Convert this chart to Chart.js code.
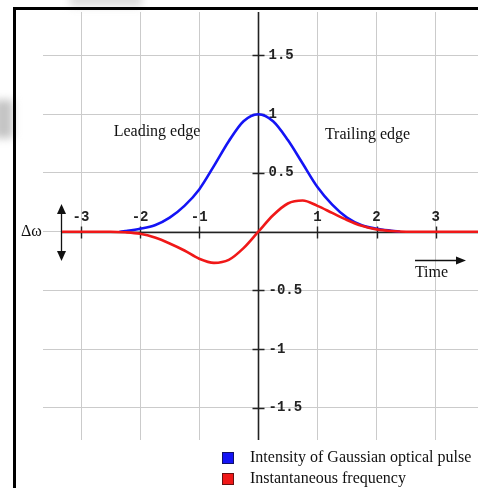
<!DOCTYPE html>
<html>
<head>
<meta charset="utf-8">
<script src="https://cdn.jsdelivr.net/npm/chart.js@4/dist/chart.umd.min.js"></script>
<style>
  html, body { margin: 0; padding: 0; background: #fff; overflow: hidden; }
  #wrap { position: relative; width: 478px; height: 488px; }
</style>
</head>
<body>
<div id="wrap"><canvas id="c" width="478" height="488"></canvas></div>
<script>
// Gaussian pulse intensity versus time
const pulseTime = [-2.35, -2.25, -2, -1.75, -1.5, -1.25, -1, -0.75, -0.5, -0.25, 0,
                   0.25, 0.5, 0.75, 1, 1.25, 1.5, 1.75, 2, 2.25, 2.4];
const pulseIntensity = [0, 0.006, 0.025, 0.055, 0.12, 0.22, 0.36, 0.56, 0.77, 0.94, 1,
                        0.94, 0.78, 0.58, 0.38, 0.23, 0.12, 0.055, 0.025, 0.008, 0];

// Instantaneous frequency shift (chirp) versus time
const chirpTime = [-3.32, -2.5, -2.25, -2, -1.75, -1.5, -1.25, -1, -0.75, -0.5, -0.25, 0,
                   0.25, 0.5, 0.75, 1, 1.25, 1.5, 1.75, 2, 2.25, 2.5, 3.72];
const chirpFrequency = [0, 0, -0.005, -0.018, -0.05, -0.1, -0.16, -0.23, -0.265, -0.24, -0.14, 0,
                        0.14, 0.24, 0.265, 0.22, 0.16, 0.1, 0.05, 0.02, 0.006, 0, 0];

// Axis tick labels
const xTickValues = [-3, -2, -1, 1, 2, 3];
const xTickLabels = ['-3', '-2', '-1', '1', '2', '3'];
const yTickValues = [1.5, 1, 0.5, -0.5, -1, -1.5];
const yTickLabels = ['1.5', '1', '0.5', '-0.5', '-1', '-1.5'];

const seriesNames = ['Intensity of Gaussian optical pulse', 'Instantaneous frequency'];
const seriesColors = ['#1414f5', '#f01818'];
const seriesBorders = ['#10106a', '#6a1010'];

const toPoints = (xs, ys) => xs.map((x, i) => ({ x: x, y: ys[i] }));

const SERIF = '"Liberation Serif", "DejaVu Serif", serif';
const MONO = '"Liberation Mono", "DejaVu Sans Mono", monospace';

function arrowHead(ctx, x, y, dir, len, half) {
  // dir: 'up' | 'down' | 'right'
  ctx.beginPath();
  if (dir === 'up') { ctx.moveTo(x, y); ctx.lineTo(x - half, y + len); ctx.lineTo(x + half, y + len); }
  else if (dir === 'down') { ctx.moveTo(x, y); ctx.lineTo(x - half, y - len); ctx.lineTo(x + half, y - len); }
  else { ctx.moveTo(x, y); ctx.lineTo(x - len, y - half); ctx.lineTo(x - len, y + half); }
  ctx.closePath();
  ctx.fill();
}

const decorPlugin = {
  id: 'decor',
  beforeDraw(chart) {
    const ctx = chart.ctx;
    ctx.save();
    // faint grey smudges near the top-left corner
    ctx.filter = 'blur(4px)';
    ctx.fillStyle = '#c4c4c4';
    ctx.fillRect(-6, 100, 19, 38);
    ctx.fillStyle = '#d8d8d8';
    ctx.fillRect(70, -6, 72, 12);
    ctx.filter = 'none';
    ctx.restore();
  },
  beforeDatasetsDraw(chart) {
    const ctx = chart.ctx;
    const xs = chart.scales.x, ys = chart.scales.y;
    const x0 = Math.round(xs.getPixelForValue(0)) + 0.5;
    const y0 = Math.round(ys.getPixelForValue(0)) + 0.5;
    const area = chart.chartArea;
    ctx.save();

    // outer frame (left and top edges)
    ctx.strokeStyle = '#000';
    ctx.lineWidth = 3;
    ctx.beginPath();
    ctx.moveTo(14.5, 490);
    ctx.lineTo(14.5, 8.5);
    ctx.lineTo(480, 8.5);
    ctx.stroke();

    // axes through the origin
    ctx.strokeStyle = '#222';
    ctx.lineWidth = 1.6;
    ctx.beginPath();
    ctx.moveTo(62, y0); ctx.lineTo(area.right, y0);
    ctx.moveTo(x0, area.top); ctx.lineTo(x0, area.bottom);
    ctx.stroke();

    // tick marks
    ctx.lineWidth = 1.4;
    ctx.beginPath();
    xTickValues.forEach(v => {
      const px = Math.round(xs.getPixelForValue(v)) + 0.5;
      ctx.moveTo(px, y0 - 6); ctx.lineTo(px, y0 + 6);
    });
    yTickValues.forEach(v => {
      const py = Math.round(ys.getPixelForValue(v)) + 0.5;
      ctx.moveTo(x0 - 6, py); ctx.lineTo(x0 + 6, py);
    });
    ctx.stroke();

    // tick labels
    ctx.fillStyle = '#222';
    ctx.font = 'bold 14px ' + MONO;
    ctx.textBaseline = 'middle';
    ctx.textAlign = 'center';
    xTickValues.forEach((v, i) => {
      ctx.fillText(xTickLabels[i], xs.getPixelForValue(v), y0 - 15);
    });
    ctx.textAlign = 'left';
    yTickValues.forEach((v, i) => {
      ctx.fillText(yTickLabels[i], x0 + 10, ys.getPixelForValue(v));
    });

    // frequency-shift marker with double arrow
    ctx.fillStyle = '#111';
    ctx.strokeStyle = '#111';
    ctx.lineWidth = 1.3;
    ctx.beginPath();
    ctx.moveTo(61.5, 210); ctx.lineTo(61.5, 255);
    ctx.stroke();
    arrowHead(ctx, 61.5, 204, 'up', 10, 4.5);
    arrowHead(ctx, 61.5, 261, 'down', 10, 4.5);
    ctx.font = '16px ' + SERIF;
    ctx.textAlign = 'left';
    ctx.fillText('\u0394\u03c9', 21, 232);

    // time direction arrow
    ctx.beginPath();
    ctx.moveTo(415, 260.5); ctx.lineTo(458, 260.5);
    ctx.stroke();
    arrowHead(ctx, 466, 260.5, 'right', 10, 4);
    ctx.font = '16px ' + SERIF;
    ctx.textAlign = 'center';
    ctx.fillText('Time', 431.5, 273);

    // pulse edge annotations
    ctx.fillText('Leading edge', 157, 132);
    ctx.fillText('Trailing edge', 367.5, 135);
    ctx.restore();
  },
  afterDraw(chart) {
    const ctx = chart.ctx;
    ctx.save();
    const rows = [458, 479];
    ctx.font = '16px ' + SERIF;
    ctx.textBaseline = 'middle';
    ctx.textAlign = 'left';
    chart.data.datasets.forEach((ds, i) => {
      const cy = rows[i];
      ctx.fillStyle = ds.borderColor;
      ctx.fillRect(222, cy - 6, 12, 12);
      ctx.strokeStyle = seriesBorders[i];
      ctx.lineWidth = 1;
      ctx.strokeRect(222.5, cy - 5.5, 11, 11);
      ctx.fillStyle = '#111';
      ctx.fillText(ds.label, 250, cy);
    });
    ctx.restore();
  }
};

new Chart(document.getElementById('c'), {
  type: 'line',
  data: {
    datasets: [
      {
        label: seriesNames[0],
        data: toPoints(pulseTime, pulseIntensity),
        borderColor: seriesColors[0],
        borderWidth: 2.6,
        pointRadius: 0,
        cubicInterpolationMode: 'monotone',
        fill: false,
        order: 1
      },
      {
        label: seriesNames[1],
        data: toPoints(chirpTime, chirpFrequency),
        borderColor: seriesColors[1],
        borderWidth: 2.6,
        pointRadius: 0,
        cubicInterpolationMode: 'monotone',
        fill: false,
        order: 0
      }
    ]
  },
  options: {
    responsive: false,
    animation: false,
    devicePixelRatio: 1,
    layout: { padding: { left: 43, top: 12, right: 0, bottom: 48 } },
    plugins: { legend: { display: false }, tooltip: { enabled: false } },
    scales: {
      x: {
        type: 'linear',
        min: -3.643, max: 3.717,
        ticks: { display: false, stepSize: 1, includeBounds: false },
        grid: { color: '#cbcbcb', lineWidth: 1, drawTicks: false },
        border: { display: false }
      },
      y: {
        type: 'linear',
        min: -1.773, max: 1.870,
        ticks: { display: false, stepSize: 0.5, includeBounds: false },
        grid: { color: '#cbcbcb', lineWidth: 1, drawTicks: false },
        border: { display: false }
      }
    }
  },
  plugins: [decorPlugin]
});
</script>
</body>
</html>
